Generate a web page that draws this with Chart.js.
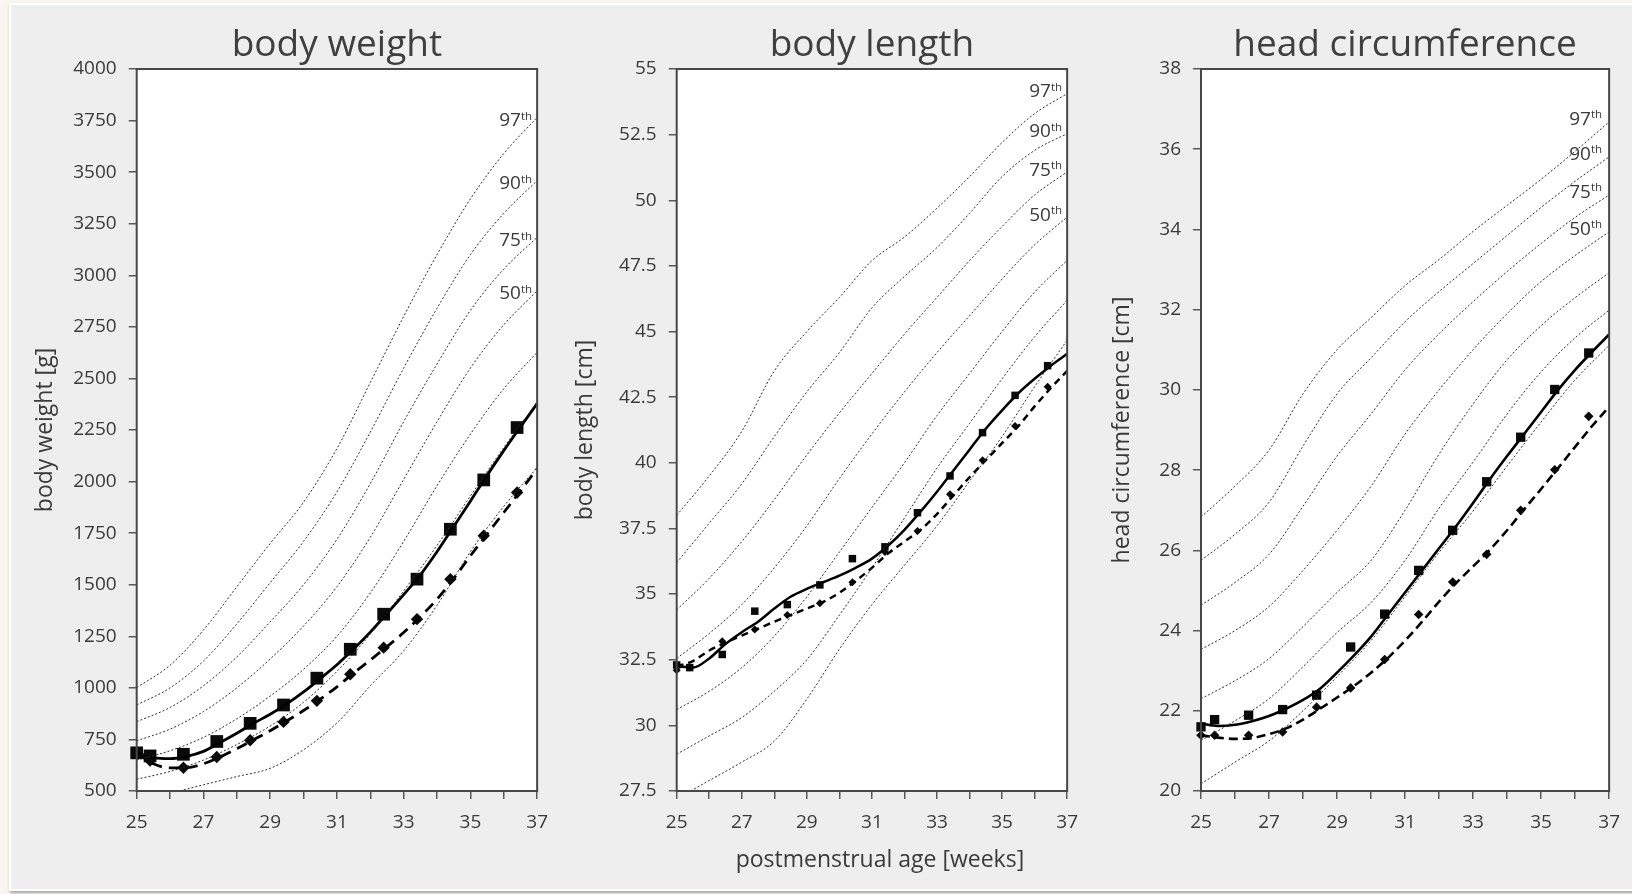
<!DOCTYPE html>
<html><head><meta charset="utf-8">
<script src="https://cdn.jsdelivr.net/npm/chart.js@4.4.1/dist/chart.umd.min.js"></script>
<style>
html,body{margin:0;padding:0;width:1632px;height:894px;overflow:hidden;background:#f9f6f1;}
#frame{position:absolute;left:9px;top:3px;width:1640px;height:888px;box-sizing:border-box;background:#eeeeee;border:2px solid #ffffff;box-shadow:1px 2px 3px rgba(0,0,0,0.35);}
canvas{position:absolute;top:0;}
</style></head>
<body>
<div id="frame"></div>
<canvas id="c1" width="560" height="894" style="left:0px"></canvas>
<canvas id="c2" width="530" height="894" style="left:560px"></canvas>
<canvas id="c3" width="542" height="894" style="left:1090px"></canvas>
<script>
// ---------- shared x data ----------
const pctWeeks = [25,26,27,28,29,30,31,32,33,34,35,36,37];
const fitWeeks = [25,25.5,26,26.5,27,27.5,28,28.5,29,29.5,30,30.5,31,31.5,32,32.5,33,33.5,34,34.5,35,35.5,36,36.5,37];
const markWeeks = [25,25.4,26.4,27.4,28.4,29.4,30.4,31.4,32.4,33.4,34.4,35.4,36.4];
const xMinorTicks = [25,26,27,28,29,30,31,32,33,34,35,36,37];
const xTickLabels = ['25','27','29','31','33','35','37'];
const pctNames = ['97','90','75','50','25','10','3'];

// ---------- body weight ----------
const bwYTicks = [500,750,1000,1250,1500,1750,2000,2250,2500,2750,3000,3250,3500,3750,4000];
const bwP97 = [1001,1110,1280,1490,1700,1900,2160,2480,2800,3100,3370,3590,3765];
const bwP90 = [917,1000,1130,1310,1510,1710,1950,2240,2550,2840,3100,3300,3459];
const bwP75 = [836,905,1010,1150,1320,1500,1720,1990,2290,2570,2830,3030,3184];
const bwP50 = [743,800,885,1000,1140,1300,1490,1730,2010,2290,2550,2760,2925];
const bwP25 = [650,695,760,850,960,1090,1250,1460,1710,1980,2230,2450,2626];
const bwP10 = [557,595,650,725,815,930,1080,1260,1470,1690,1930,2165,2385];
const bwP3  = [460,490,530,570,610,700,830,1010,1180,1400,1660,1880,2068];
const bwSolid  = [685,662,657,668,692,735,780,828,872,922,980,1045,1112,1188,1270,1360,1452,1548,1660,1782,1905,2030,2150,2265,2378];
const bwDashed = [685,632,612,613,632,665,705,748,792,840,890,945,1005,1072,1135,1200,1268,1345,1430,1530,1640,1745,1850,1955,2062];
const bwSquares = [685,670,678,740,828,917,1047,1187,1357,1527,1769,2008,2262];
const bwDiamondWeeks = [25.4,26.4,27.4,28.4,29.4,30.4,31.4,32.4,33.4,34.4,35.4,36.4];
const bwDiamonds = [648,613,665,746,835,937,1066,1195,1333,1527,1737,1947];

// ---------- body length ----------
const blYTicks = [27.5,30,32.5,35,37.5,40,42.5,45,47.5,50,52.5,55];
const blP97 = [38.0,39.5,41.2,43.5,45.0,46.3,47.7,48.6,49.7,50.9,52.2,53.3,54.06];
const blP90 = [36.2,37.7,39.2,41.0,42.7,44.2,45.9,47.1,48.2,49.5,50.9,51.9,52.54];
const blP75 = [34.4,35.6,37.0,38.6,40.3,41.9,43.4,44.9,46.3,47.7,49.0,50.2,51.08];
const blP50 = [32.55,33.5,34.6,36.0,37.6,39.4,41.1,42.7,44.2,45.6,47.0,48.3,49.36];
const blP25 = [30.6,31.3,32.2,33.4,34.9,36.6,38.3,40.0,41.8,43.4,45.0,46.5,47.71];
const blP10 = [28.9,29.6,30.3,31.3,32.5,34.2,36.0,37.9,39.8,41.5,43.2,44.8,46.19];
const blP3  = [27.2,27.9,28.6,29.4,31.0,32.9,34.6,36.1,37.6,39.3,41.0,42.9,44.67];
const blSolid  = [32.25,32.2,32.55,33.1,33.55,33.95,34.45,34.9,35.2,35.45,35.7,36.0,36.35,36.85,37.45,38.15,38.9,39.7,40.5,41.3,42.0,42.65,43.2,43.7,44.15];
const blDashed = [32.25,32.45,32.85,33.15,33.42,33.68,33.95,34.2,34.45,34.7,35.05,35.5,36.0,36.55,37.0,37.45,38.05,38.75,39.45,40.1,40.75,41.4,42.15,42.85,43.5];
const blSquares  = [32.3,32.2,32.7,34.35,34.6,35.35,36.35,36.8,38.1,39.5,41.15,42.57,43.7];
const blDiamonds = [32.1,32.2,33.2,33.65,34.2,34.65,35.45,36.6,37.4,38.8,40.1,41.4,42.9];

// ---------- head circumference ----------
const hcYTicks = [20,22,24,26,28,30,32,34,36,38];
const hcP97 = [26.83,27.6,28.5,29.9,31.0,31.8,32.6,33.25,33.95,34.6,35.25,35.95,36.68];
const hcP90 = [25.75,26.4,27.2,28.6,29.9,30.8,31.7,32.45,33.15,33.85,34.55,35.2,35.81];
const hcP75 = [24.63,25.2,25.9,27.1,28.35,29.4,30.5,31.4,32.2,32.95,33.65,34.3,34.86];
const hcP50 = [23.53,24.0,24.6,25.5,26.5,27.6,28.9,30.0,31.0,31.9,32.7,33.35,33.94];
const hcP25 = [22.3,22.75,23.3,24.1,24.95,25.75,27.0,28.4,29.65,30.75,31.6,32.3,32.92];
const hcP10 = [21.26,21.75,22.3,23.1,23.95,24.7,25.75,27.05,28.2,29.4,30.45,31.3,31.99];
const hcP3  = [20.18,20.72,21.25,22.0,22.85,23.75,24.85,25.95,26.98,28.1,29.2,30.25,31.11];
const hcSolid  = [21.68,21.62,21.65,21.74,21.87,22.05,22.27,22.55,22.95,23.38,23.85,24.4,24.95,25.5,26.05,26.6,27.18,27.78,28.35,28.9,29.45,30.0,30.5,30.95,31.38];
const hcDashed = [21.39,21.33,21.3,21.32,21.42,21.56,21.78,22.05,22.33,22.62,22.95,23.32,23.75,24.22,24.72,25.18,25.6,26.02,26.5,27.02,27.53,28.05,28.58,29.1,29.58];
const hcSquares  = [21.6,21.78,21.89,22.03,22.39,23.59,24.41,25.5,26.5,27.71,28.82,30.01,30.92];
const hcDiamonds = [21.39,21.39,21.39,21.47,22.09,22.57,23.28,24.4,25.21,25.9,27.0,28.01,29.34];

// ---------- drawing ----------
Chart.defaults.font.family = "'Open Sans', 'Noto Sans', sans-serif";
Chart.defaults.color = '#404040';
const FONT = "'Open Sans', 'Noto Sans', sans-serif";
const TXT = '#3a3a3a';

function xy(xs, ys) { return xs.map((x, i) => ({x: x, y: ys[i]})); }

function makePanel(id, o) {
  const datasets = [];
  o.pcts.forEach(arr => datasets.push({
    data: xy(pctWeeks, arr), borderColor: '#2e2e2e', borderWidth: 1, borderDash: [2, 2],
    pointRadius: 0, cubicInterpolationMode: 'monotone', fill: false, clip: 0
  }));
  datasets.push({data: xy(fitWeeks, o.solid), borderColor: '#000', borderWidth: o.lw,
    pointRadius: 0, cubicInterpolationMode: 'monotone', fill: false, clip: 0});
  datasets.push({data: xy(fitWeeks, o.dashed), borderColor: '#000', borderWidth: o.lw, borderDash: o.dash,
    pointRadius: 0, cubicInterpolationMode: 'monotone', fill: false, clip: 0});
  datasets.push({data: xy(o.sqW, o.sq), showLine: false, pointStyle: 'rect', pointRadius: o.sqR,
    pointBackgroundColor: '#0a0a0a', pointBorderWidth: 0, clip: false});
  datasets.push({data: xy(o.dmW, o.dm), showLine: false, pointStyle: 'rectRot', pointRadius: o.dmR,
    pointBackgroundColor: '#0a0a0a', pointBorderWidth: 0, clip: false});

  const bg = {
    id: 'bg' + id,
    beforeDraw(chart) {
      const {ctx, chartArea: a} = chart;
      ctx.save(); ctx.fillStyle = '#ffffff';
      ctx.fillRect(a.left, a.top, a.right - a.left, a.bottom - a.top);
      ctx.restore();
    }
  };

  const decor = {
    id: 'decor' + id,
    afterDatasetsDraw(chart) {
      const {ctx, chartArea: a, scales} = chart;
      ctx.save();
      ctx.strokeStyle = '#474747'; ctx.lineWidth = 2;
      ctx.strokeRect(a.left, a.top, a.right - a.left, a.bottom - a.top);
      ctx.fillStyle = TXT; ctx.textAlign = 'left'; ctx.textBaseline = 'alphabetic';
      for (let i = 0; i < 4; i++) {
        const arr = o.pcts[i];
        const yPix = scales.y.getPixelForValue(arr[arr.length - 1]) + o.labDy;
        const name = pctNames[i];
        ctx.font = '19px ' + FONT; const w1 = ctx.measureText(name).width;
        ctx.font = '11.5px ' + FONT; const w2 = ctx.measureText('th').width;
        const xr = a.right - o.labDx;
        const base = yPix + 6.7;
        ctx.font = '19px ' + FONT; ctx.fillText(name, xr - w1 - w2, base);
        ctx.font = '11.5px ' + FONT; ctx.fillText('th', xr - w2, base - 6.5);
      }
      if (o.xTitle) {
        ctx.font = '23px ' + FONT; ctx.textAlign = 'center'; ctx.textBaseline = 'alphabetic';
        ctx.fillText(o.xTitle, (a.left + a.right) / 2 + o.xTitleDx, a.bottom + 75.5);
      }
      ctx.restore();
    }
  };

  new Chart(document.getElementById(id), {
    type: 'line',
    data: {datasets: datasets},
    options: {
      responsive: false, animation: false, events: [],
      layout: {padding: {left: o.padL, right: o.padR, top: 23.3, bottom: 3}},
      plugins: {
        legend: {display: false}, tooltip: {enabled: false},
        title: {display: true, text: o.title, fullSize: false, color: '#404040',
          font: {size: 37, weight: 'normal'}, padding: {top: 0, bottom: 1.3}}
      },
      scales: {
        x: {
          type: 'linear', min: 25, max: 37,
          afterBuildTicks: s => { s.ticks = xMinorTicks.map(v => ({value: v})); },
          afterFit: s => { s.height = 100; },
          ticks: {autoSkip: false, maxRotation: 0, padding: 12, color: TXT, font: {size: 19},
            callback: v => xTickLabels.includes(String(v)) ? String(v) : ''},
          grid: {drawOnChartArea: false, drawTicks: true, tickLength: 8, color: '#5a5a5a', lineWidth: 1.5},
          border: {display: false},
          title: {display: false}
        },
        y: {
          type: 'linear', min: o.yTicks[0], max: o.yTicks[o.yTicks.length - 1],
          afterBuildTicks: s => { s.ticks = o.yTicks.map(v => ({value: v})); },
          afterFit: s => { s.width = o.yW; },
          ticks: {autoSkip: false, padding: 12, color: TXT, font: {size: 19}, callback: v => String(v)},
          grid: {drawOnChartArea: false, drawTicks: true, tickLength: 8, color: '#5a5a5a', lineWidth: 1.5},
          border: {display: false},
          title: {display: true, text: o.yTitle, color: TXT, font: {size: 23}, padding: {top: 0, bottom: 0}}
        }
      }
    },
    plugins: [bg, decor]
  });
}

makePanel('c1', {
  title: 'body weight', yTitle: 'body weight [g]', yTicks: bwYTicks,
  pcts: [bwP97, bwP90, bwP75, bwP50, bwP25, bwP10, bwP3],
  solid: bwSolid, dashed: bwDashed, sqW: markWeeks, sq: bwSquares, dmW: bwDiamondWeeks, dm: bwDiamonds,
  sqR: 9, dmR: 6.2, lw: 2.8, dash: [11, 7],
  padL: 31.7, yW: 105, padR: 21, labDx: 5, labDy: 2
});
makePanel('c2', {
  title: 'body length', yTitle: 'body length [cm]', xTitle: 'postmenstrual age [weeks]', xTitleDx: 8, yTicks: blYTicks,
  pcts: [blP97, blP90, blP75, blP50, blP25, blP10, blP3],
  solid: blSolid, dashed: blDashed, sqW: markWeeks, sq: blSquares, dmW: markWeeks, dm: blDiamonds,
  sqR: 5.3, dmR: 4, lw: 2.5, dash: [7, 5],
  padL: 11.2, yW: 105.5, padR: 12.5, labDx: 5, labDy: -3
});
makePanel('c3', {
  title: 'head circumference', yTitle: 'head circumference [cm]', yTicks: hcYTicks,
  pcts: [hcP97, hcP90, hcP75, hcP50, hcP25, hcP10, hcP3],
  solid: hcSolid, dashed: hcDashed, sqW: markWeeks, sq: hcSquares, dmW: markWeeks, dm: hcDiamonds,
  sqR: 6.6, dmR: 4.8, lw: 2.6, dash: [9, 5],
  padL: 19, yW: 92, padR: 21, labDx: 7, labDy: -4
});
</script>
</body></html>
